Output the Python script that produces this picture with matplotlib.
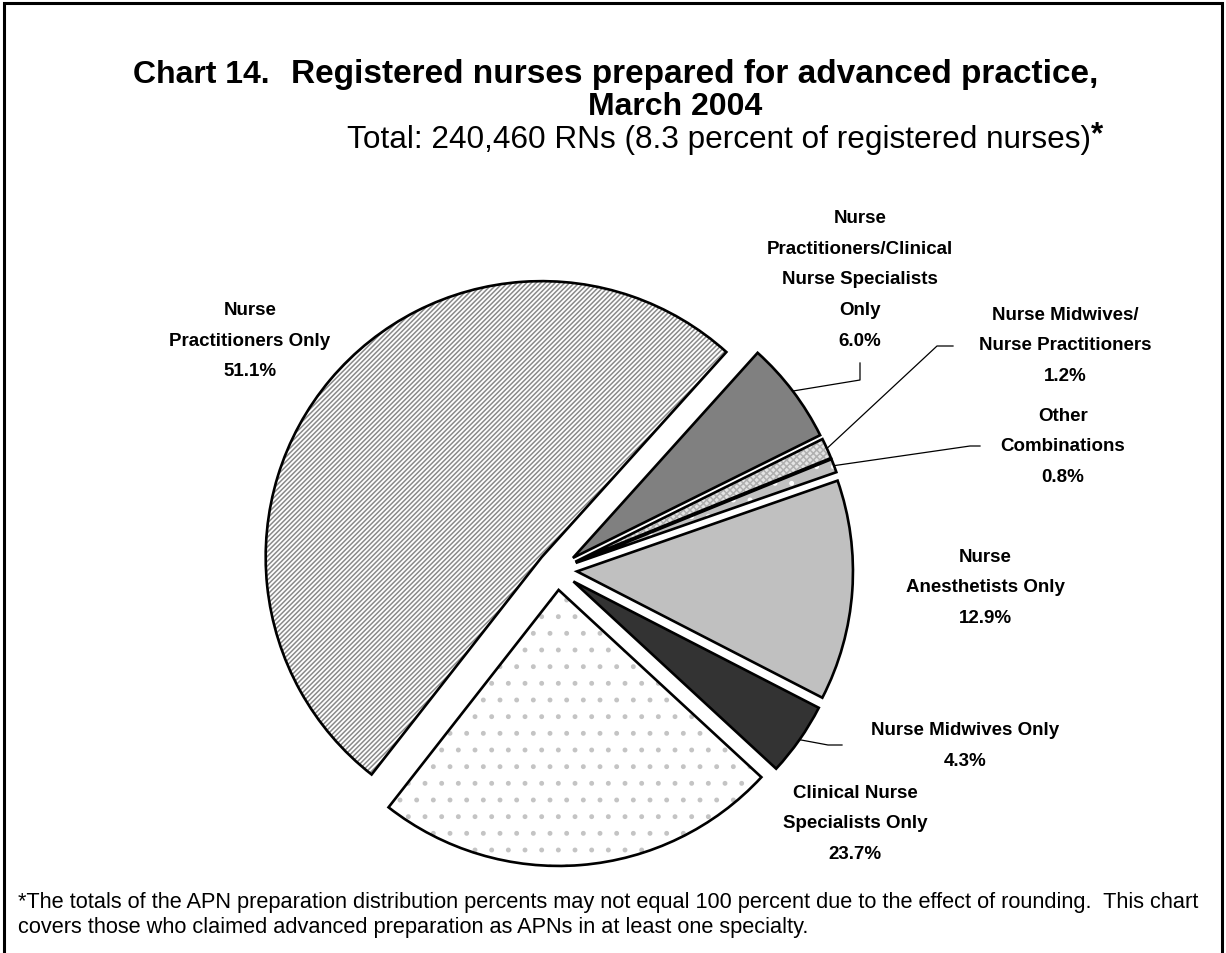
import matplotlib
matplotlib.use("Agg")
import matplotlib.pyplot as plt
from matplotlib.patches import Rectangle
import numpy as np

plt.rcParams['font.family'] = ['Liberation Sans', 'DejaVu Sans']
plt.rcParams['hatch.linewidth'] = 1.1

# ---- data ----
categories = ['Nurse\nPractitioners Only',
              'Clinical Nurse\nSpecialists Only',
              'Nurse Midwives Only',
              'Nurse\nAnesthetists Only',
              'Other\nCombinations',
              'Nurse Midwives/\nNurse Practitioners',
              'Nurse\nPractitioners/Clinical\nNurse Specialists\nOnly']
percents = [51.1, 23.7, 4.3, 12.9, 0.8, 1.2, 6.0]

# ---- styles ----
face_colors = ['white', 'white', '#333333', '#c0c0c0', '#c0c0c0', '#e4e4e4', '#808080']
hatch_colors = ['#8a8a8a', '#c4c4c4', '#333333', '#c0c0c0', 'white', '#b0b0b0', '#808080']
hatches = ['///////', '.', '', '', '.', 'xxxxx', '']

# label anchor in pixels (x, y from top)
label_pos = [(250, 341), (855, 824), (965, 746), (985, 588), (1063, 447), (1065, 346), (860, 280)]

W, H = 1226, 954
fig = plt.figure(figsize=(W / 100, H / 100), dpi=100)
ax = fig.add_axes([0, 0, 1, 1])

center = (557, H - 571)
radius = 276
expl = [20] * len(percents)

wedges, _ = ax.pie(percents, explode=expl, center=center, radius=radius,
                   startangle=48.0, counterclock=True,
                   wedgeprops=dict(linewidth=0))
for w, fc, hc, h in zip(wedges, face_colors, hatch_colors, hatches):
    w.set_facecolor(fc)
    w.set_edgecolor(hc)
    w.set_hatch(h)

# outlines on top
ax.pie(percents, explode=expl, center=center, radius=radius,
       startangle=48.0, counterclock=True,
       wedgeprops=dict(facecolor='none', edgecolor='black', linewidth=1.9))

ax.set_xlim(0, W)
ax.set_ylim(0, H)
ax.set_aspect('auto')
ax.axis('off')

# labels
for cat, pct, (px, py) in zip(categories, percents, label_pos):
    ax.text(px, H - py, f"{cat}\n{pct:.1f}%", ha='center', va='center',
            fontsize=13.5, fontweight='bold', linespacing=2.05)


def arc_point(w):
    mid = np.deg2rad((w.theta1 + w.theta2) / 2)
    return (w.center[0] + w.r * np.cos(mid), w.center[1] + w.r * np.sin(mid))


# leader lines (elbow points in pixels from top)
leaders = {6: [(860, 381), (860, 364)],
           5: [(937, 347), (953, 347)],
           4: [(970, 447), (980, 447)],
           2: [(828, 746), (842, 746)]}
for i, pts in leaders.items():
    x0, y0 = arc_point(wedges[i])
    xs = [x0] + [p[0] for p in pts]
    ys = [y0] + [H - p[1] for p in pts]
    ax.plot(xs, ys, color='black', linewidth=0.9)

# titles
fig.text(133 / W, 1 - 75 / H, 'Chart 14.', ha='left', va='center',
         fontsize=23, fontweight='bold')
fig.text(1098 / W, 1 - 75 / H, 'Registered nurses prepared for advanced practice,',
         ha='right', va='center', fontsize=24, fontweight='bold')
fig.text(675 / W, 1 - 107 / H, 'March 2004', ha='center', va='center',
         fontsize=23, fontweight='bold')
sub = fig.text(347 / W, 1 - 140 / H, 'Total: 240,460 RNs (8.3 percent of registered nurses)',
               ha='left', va='center', fontsize=22.7)
fig.canvas.draw()
bb = sub.get_window_extent()
fig.text(bb.x1 / W, 1 - 135 / H, '*', ha='left', va='center',
         fontsize=22.7, fontweight='bold')

# footnote
fig.text(18 / W, 1 - 915 / H,
         '*The totals of the APN preparation distribution percents may not equal 100 percent due to the effect of rounding.  This chart\n'
         'covers those who claimed advanced preparation as APNs in at least one specialty.',
         ha='left', va='center', fontsize=15.7, linespacing=1.25)

# frame
fig.patches.append(Rectangle((4 / W, -0.05), (1222 - 4) / W, (H - 4) / H + 0.05,
                             transform=fig.transFigure, fill=False,
                             edgecolor='black', linewidth=2.2))

fig.savefig('out.png', dpi=100)
